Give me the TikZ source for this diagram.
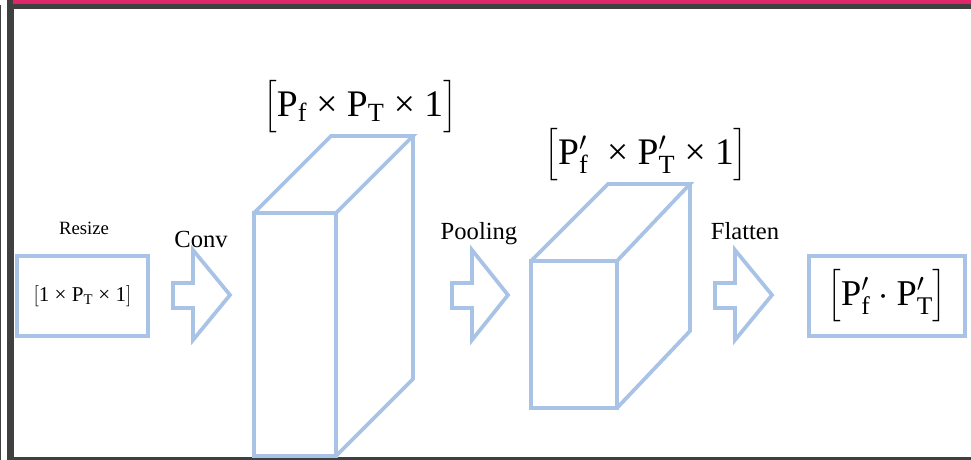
\RequirePackage{fix-cm}
\documentclass[tikz,border=0pt]{standalone}
\usepackage{amsmath}
\usepackage{fontspec}
\setmainfont{Liberation Serif}
\definecolor{boxblue}{HTML}{A9C3E6}
\definecolor{framegray}{HTML}{404040}
\definecolor{framepink}{HTML}{E0266A}
\newcommand\tx{\mbox{ × }}
\tikzset{
  blueline/.style={draw=boxblue, line width=3.2pt, line join=miter},
  shapebox/.style={blueline, minimum width=3.93cm, minimum height=2.4cm, inner sep=0pt},
  steplabel/.style={anchor=base, font=\fontsize{21}{24}\selectfont},
  dimlabel/.style={font=\fontsize{32}{36}\selectfont}
}
\begin{document}
\begin{tikzpicture}[x=0.03cm, y=-0.03cm]
  \useasboundingbox (0,0) rectangle (971,460);
  % frame
  \fill[framegray] (7,0) rectangle (14,460);
  \draw[framegray, line width=0.8pt] (0.5,5)--(0.5,460);
  \fill[framepink] (13,0) rectangle (971,4);
  \fill[framegray] (13,4) rectangle (971,9);
  \fill[framegray] (14,457) rectangle (971,460);
  % input and output
  \node[shapebox] (rs) at (82.5,296) {\fontsize{18}{21}\selectfont$\mathrm{[1\tx P_T\tx 1]}$};
  \node[anchor=base, font=\fontsize{16}{19}\selectfont] (rslbl) at (84,235) {Resize};
  \node[shapebox, minimum width=4.68cm] (out) at (887,296) {\fontsize{31}{35}\selectfont$\big[\mathrm{P}'_{\mathrm{f}}\cdot\mathrm{P}'_{\mathrm{T}}\big]$};
  % block arrows
  \foreach \ax/\tip in {173/230, 452/508, 715/772}
    \draw[blueline] (\ax,283)--(\ax+20,283)--(\ax+20,250)--(\tip,295)--(\ax+20,340)--(\ax+20,308)--(\ax,308)--cycle;
  \node[steplabel] (conv) at (201,248) {Conv};
  \node[steplabel] (pool) at (479,240) {Pooling};
  \node[steplabel] (flat) at (745,240) {Flatten};
  % conv volume
  \draw[blueline] (254,213) rectangle (336,456);
  \draw[blueline] (254,213)--(331,136)--(413,136)--(336,213) (413,136)--(413,379)--(336,456);
  \node[dimlabel] (convdim) at (360,107) {$\big[\mathrm{P_f\tx P_T\tx 1}\big]$};
  % pooled volume
  \draw[blueline] (531,261) rectangle (617,408);
  \draw[blueline] (531,261)--(608,184)--(690,184)--(617,261) (690,184)--(690,331)--(617,408);
  \node[dimlabel] (pooldim) at (646,155) {$\big[\mathrm{P}'_{\mathrm{f}}\ \tx\mathrm{P}'_{\mathrm{T}}\tx\mathrm{1}\big]$};
\end{tikzpicture}
\end{document}
